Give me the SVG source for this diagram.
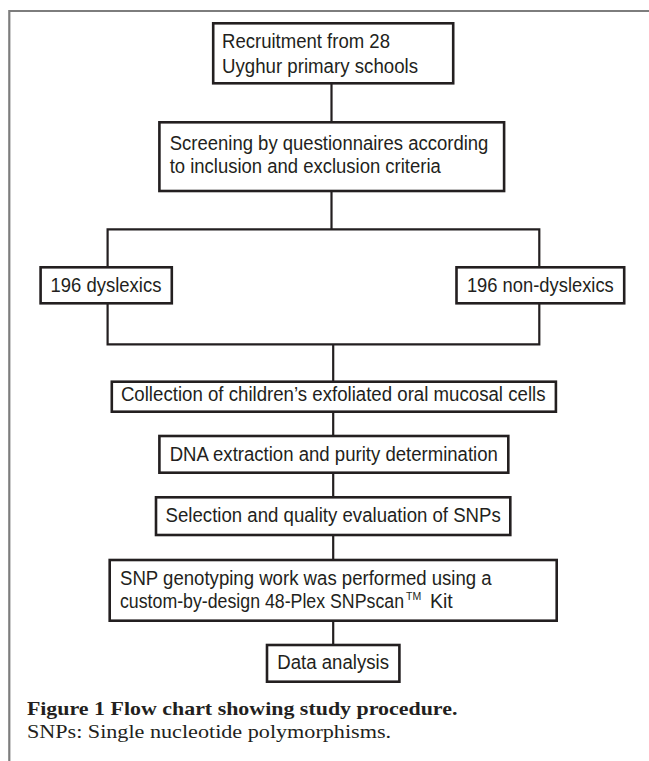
<svg xmlns="http://www.w3.org/2000/svg" width="649" height="761" viewBox="0 0 649 761">
<style>
.frame{stroke:#7d7d7d;stroke-width:2.2;fill:none}
.box{fill:#fff;stroke:#231f20;stroke-width:2.6}
.conn{stroke:#231f20;stroke-width:2.2;fill:none}
.t{font-family:"Liberation Sans",Arial,sans-serif;font-size:19.5px;fill:#231f20}
.sup{font-size:10.5px}
.cb{font-family:"Liberation Serif","Times New Roman",serif;font-size:19px;font-weight:bold;fill:#231f20}
.cr{font-family:"Liberation Serif","Times New Roman",serif;font-size:19px;fill:#231f20}
</style>
<rect width="649" height="761" fill="#fff"/>
<g id="frame">
<path class="frame" d="M9.3,761 V11 H649"/>
</g>
<g id="connectors">
<path class="conn" d="M331.5,83.3 V122.3"/>
<path class="conn" d="M331.5,191 V229.3"/>
<path class="conn" d="M107.6,267.3 V229.3 H539.3 V267.3"/>
<path class="conn" d="M107.6,303.3 V344.3 H539.3 V303.3"/>
<path class="conn" d="M333.2,344.3 V381.7"/>
<path class="conn" d="M333.2,411.7 V436"/>
<path class="conn" d="M333.2,472.7 V497.3"/>
<path class="conn" d="M333.2,535 V560"/>
<path class="conn" d="M333.2,620.7 V645"/>
</g>
<g id="recruitment">
<rect class="box" x="213.2" y="23.3" width="240" height="60"/>
<text class="t" x="222" y="48.3" textLength="168" lengthAdjust="spacingAndGlyphs">Recruitment from 28</text>
<text class="t" x="222" y="72.7" textLength="196" lengthAdjust="spacingAndGlyphs">Uyghur primary schools</text>
</g>
<g id="screening">
<rect class="box" x="159.4" y="122.3" width="344.7" height="68.7"/>
<text class="t" x="169.7" y="149.5" textLength="318.7" lengthAdjust="spacingAndGlyphs">Screening by questionnaires according</text>
<text class="t" x="169.7" y="173" textLength="271.1" lengthAdjust="spacingAndGlyphs">to inclusion and exclusion criteria</text>
</g>
<g id="dyslexics">
<rect class="box" x="40.6" y="267.3" width="131.2" height="36"/>
<text class="t" x="50.5" y="291.7" textLength="110.9" lengthAdjust="spacingAndGlyphs">196 dyslexics</text>
</g>
<g id="non-dyslexics">
<rect class="box" x="456.5" y="267.3" width="167.7" height="36"/>
<text class="t" x="466.9" y="291.7" textLength="146.9" lengthAdjust="spacingAndGlyphs">196 non-dyslexics</text>
</g>
<g id="collection">
<rect class="box" x="111.8" y="381.7" width="444.1" height="30"/>
<text class="t" x="120.9" y="400.5" textLength="424.6" lengthAdjust="spacingAndGlyphs">Collection of children’s exfoliated oral mucosal cells</text>
</g>
<g id="dna">
<rect class="box" x="159.4" y="436" width="348.9" height="36.7"/>
<text class="t" x="169.7" y="461" textLength="328.2" lengthAdjust="spacingAndGlyphs">DNA extraction and purity determination</text>
</g>
<g id="selection">
<rect class="box" x="156" y="497.3" width="354.3" height="37.7"/>
<text class="t" x="165.6" y="521.7" textLength="335.2" lengthAdjust="spacingAndGlyphs">Selection and quality evaluation of SNPs</text>
</g>
<g id="genotyping">
<rect class="box" x="109.7" y="560" width="447" height="60.7"/>
<text class="t" x="120" y="585" textLength="371.7" lengthAdjust="spacingAndGlyphs">SNP genotyping work was performed using a</text>
<text class="t" x="120" y="608.3"><tspan textLength="284" lengthAdjust="spacingAndGlyphs">custom-by-design 48-Plex SNPscan</tspan><tspan class="sup" x="406" y="599.5">TM</tspan><tspan x="430" y="608.3">Kit</tspan></text>
</g>
<g id="data-analysis">
<rect class="box" x="267" y="645" width="132.4" height="36.7"/>
<text class="t" x="277.3" y="669.3" textLength="111.7" lengthAdjust="spacingAndGlyphs">Data analysis</text>
</g>
<g id="caption">
<text class="cb" x="26.9" y="715" textLength="430.5" lengthAdjust="spacingAndGlyphs">Figure 1 Flow chart showing study procedure.</text>
<text class="cr" x="26.9" y="738.3" textLength="364.2" lengthAdjust="spacingAndGlyphs">SNPs: Single nucleotide polymorphisms.</text>
</g>
</svg>
